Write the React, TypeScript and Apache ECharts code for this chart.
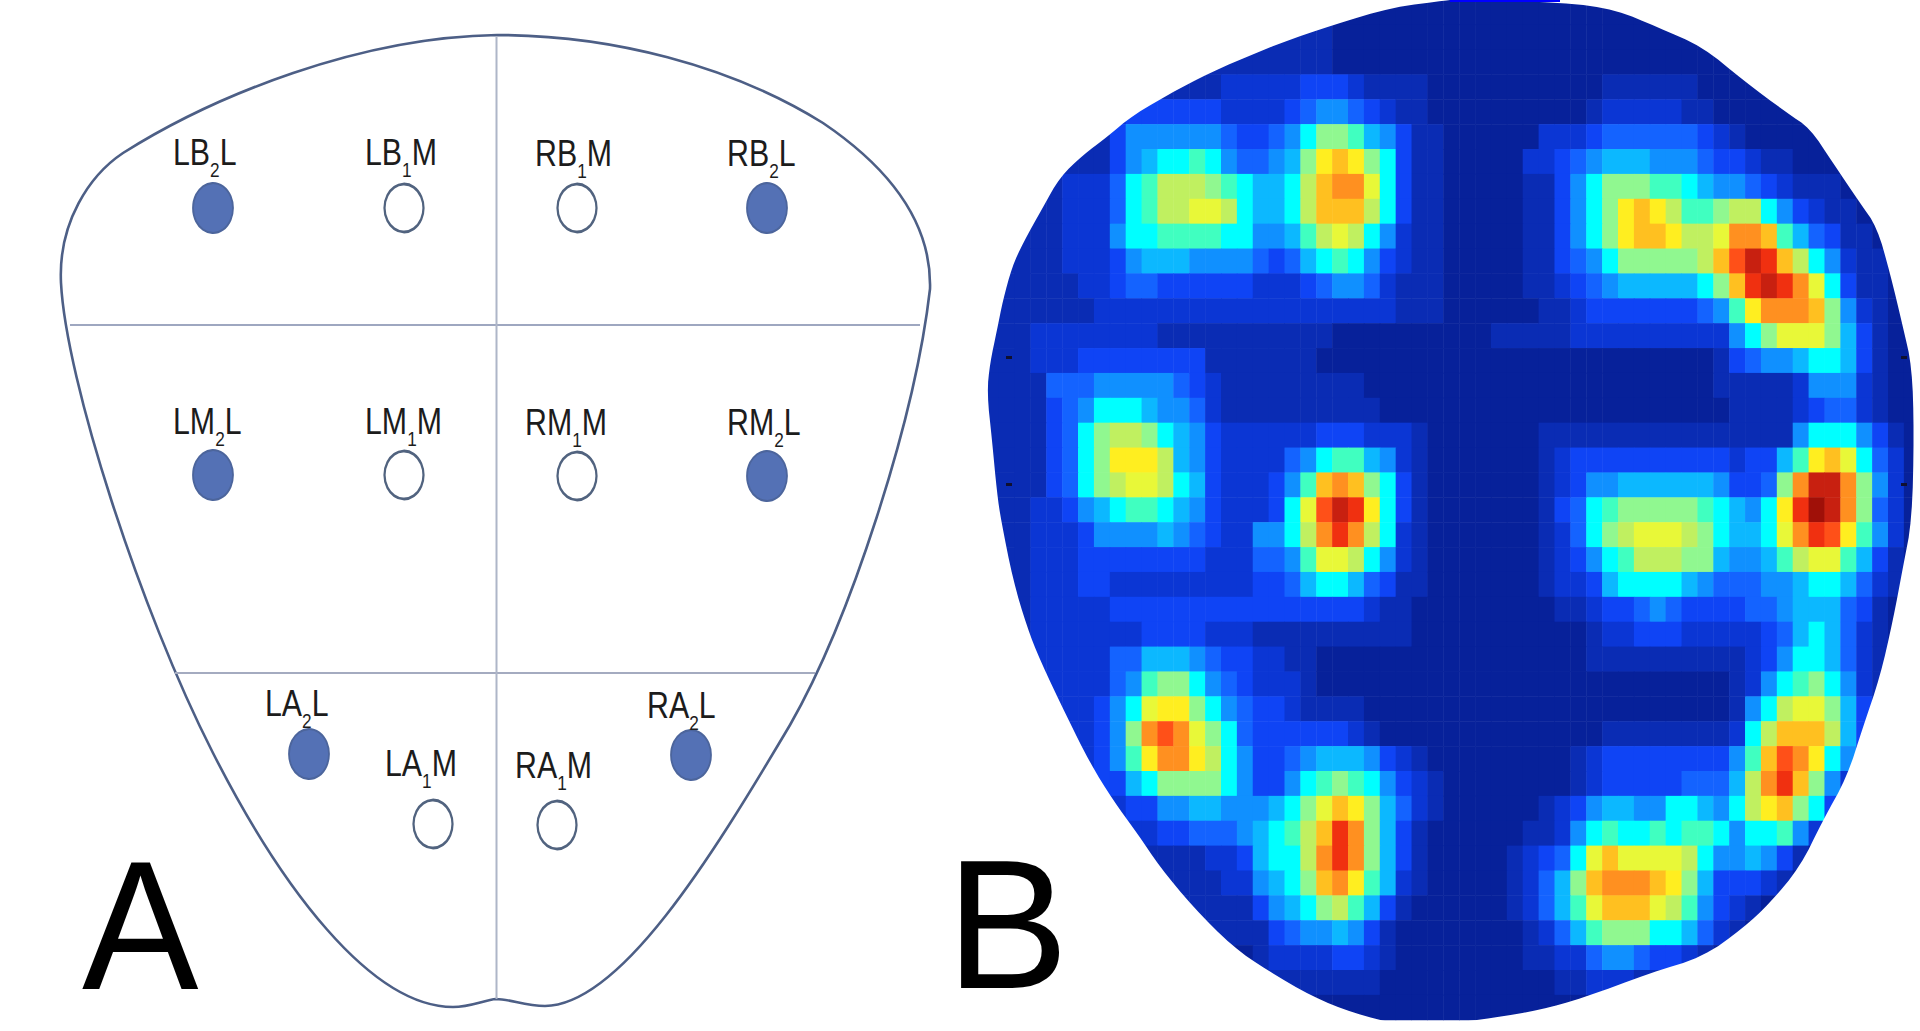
import React, { useEffect, useRef } from "react";
import * as echarts from "echarts";

// Panel B: activity level of each cell, one base-36 digit per cell (0 = lowest, i = 18 = highest)
const heatRows = [
  "0000000000 0000000000 0000000000 0000000000 0000000000 000000000",
  "1111111111 1111111111 1100000000 0000000000 0000000000 000000000",
  "1111111111 1111111111 1100000000 0000000000 0000000000 000000000",
  "1111111111 1111122222 3332111100 0000000001 1111100000 000000000",
  "1111111123 3333322223 4554321100 0000000012 2222110000 000000000",
  "1111111135 5555543345 7998653110 0000022234 4444432100 000000000",
  "1111111135 6778754456 9cdc973110 0000223456 6655543321 100000000",
  "1111122247 8aaa987667 adeeb73110 0000113579 9988765543 211100000",
  "1111122247 8aabba7667 addda73110 0000113579 cdca889aa7 532110000",
  "1111122257 7888877556 8aba752110 0000113579 cddcaabeed 864311000",
  "1111122235 6665555434 6787532110 0000113457 99999adfhg da7521100",
  "1111112234 4333333222 3455421110 0000112345 6666679dgh geb731100",
  "1111111222 2222222222 2222221110 0000011233 33333458ce eed952100",
  "1112222222 2111111111 1100000000 0011111222 2222222579 bbb963100",
  "1112223333 3333111111 1000000000 0000000000 0000001345 567763100",
  "1111444555 5543211111 1111000000 0000000000 0000001111 125552100",
  "1111345777 6554211111 1111100000 0000000000 0000000111 123442100",
  "11113479aa 9765322222 2333222100 0000011111 1111111111 157775310",
  "11113479cc ca65322224 5788652100 0000012333 3333333233 68cdb7420",
  "11113479ab ba76322235 8ded973100 0000012355 6666665334 9ehhe9520",
  "1112235678 8765322237 bfhgc73100 0000013478 9999987657 cgihe9420",
  "1112223555 5654322557 aegea72100 0000012479 abbba97667 begfc8520",
  "1112223333 3333222445 8bba752100 0000012357 8aaa996556 8abb86310",
  "1112223322 2222222334 6776431100 0000012236 7777654445 567764210",
  "1112222233 3333333333 3333211000 0000001123 3454333344 566643100",
  "1112222222 3333222111 1111111000 0000000012 2333222223 467642100",
  "1112222244 6665433221 1000000000 0000000011 1111111123 577642100",
  "1112222245 8997543222 1000000000 0000000000 0000000125 789752100",
  "1112222357 bcc9754332 1111000000 0000000000 0000000157 abb963100",
  "1112222359 efeb974333 3332100000 0000000001 111111127a ddda63100",
  "1111122358 ceeca75334 5666532100 0000000123 333333358d fec752000",
  "1111122336 7999975335 7898753210 0000000123 33334446ae gd9520000",
  "1111112223 3556655567 9bdc964210 0000012356 65577657ac d97310000",
  "1111111122 2334445678 adge963100 0000112578 7787887577 852000000",
  "0000001111 1111223677 aege963100 00012347bd bbbba75565 310000000",
  "0000000111 1111122567 9dec862100 00012469de eedc963332 100000000",
  "0000000001 1111111356 79a8631000 00012468bd ddba853210 000000000",
  "0000000000 0000111134 5565310000 0000124689 9977642100 000000000",
  "0000000000 0000000122 2233210000 0000112245 5433210000 000000000",
  "0000000000 0000000011 1111100000 0000001122 2111000000 000000000",
  "0000000000 0000000000 0000000000 0000000000 0000000000 000000000",
];

const levelColors = [
  "#07219a", "#0a2cb4", "#0b36d4", "#0f44f5", "#1463ff", "#1090ff", "#0cb8ff",
  "#00ffff", "#40ffc0", "#90f890", "#c0f060", "#e8f838", "#ffee20", "#ffc020",
  "#ff9020", "#ff5018", "#f03010", "#c82010", "#a01008",
];

// Panel A: electrodes [x, y] on the page-wide axes
const filledElectrodes = [[213, 208], [767, 208], [213, 475], [767, 476], [309, 754], [691, 755]];
const hollowElectrodes = [[404, 208], [577, 208], [404, 475], [577, 476], [433, 824], [557, 825]];
// label text is [prefix, subscript, suffix]; position is left edge and baseline
const electrodeLabels: [string, string, string, number, number][] = [
  ["LB", "2", "L", 173, 164], ["LB", "1", "M", 365, 164], ["RB", "1", "M", 535, 165], ["RB", "2", "L", 727, 165],
  ["LM", "2", "L", 173, 433], ["LM", "1", "M", 365, 433], ["RM", "1", "M", 525, 434], ["RM", "2", "L", 727, 434],
  ["LA", "2", "L", 265, 715], ["LA", "1", "M", 385, 775], ["RA", "1", "M", 515, 777], ["RA", "2", "L", 647, 717],
];

const footPath =
  "M497 35 C360 37 215 95 123 153 C90 175 58 222 61 283 C66 380 140 610 213 753 C280 885 370 1007 453 1007 " +
  "C470 1007 485 1000 496 999 C510 999 525 1006 545 1006 C620 1005 710 860 790 725 C850 620 915 420 930 289 " +
  "C932 220 885 165 823 123 C730 65 610 35 497 35 Z";

const heatEdge = [
  [1450, 0], [1563, 2], [1617, 10], [1657, 27], [1703, 47], [1743, 80], [1787, 113], [1810, 128], [1833, 163],
  [1860, 203], [1877, 227], [1890, 273], [1903, 327], [1912, 367], [1914, 433], [1912, 520], [1903, 567], [1893, 620],
  [1880, 677], [1863, 727], [1847, 777], [1823, 820], [1800, 867], [1770, 903], [1743, 928], [1703, 957], [1650, 973],
  [1583, 998], [1540, 1010], [1493, 1018], [1450, 1023], [1400, 1025], [1353, 1013], [1313, 997], [1267, 970],
  [1233, 947], [1193, 907], [1160, 867], [1137, 833], [1113, 800], [1090, 763], [1067, 717], [1040, 660], [1027, 627],
  [1013, 580], [1001, 520], [997, 493], [992, 440], [987, 393], [990, 363], [997, 330], [1003, 300], [1012, 267],
  [1023, 243], [1043, 207], [1060, 177], [1083, 155], [1107, 137], [1133, 115], [1180, 88], [1220, 68], [1280, 43],
  [1333, 25], [1393, 7], [1450, 0],
];
const edgeTicks = [[1006, 356], [1006, 483], [1901, 356], [1901, 483]];

echarts.graphic.registerShape("footOutline", echarts.graphic.extendPath(footPath, {}) as any);

function cornerCut(points: number[][]): number[][] {
  const out: number[][] = [points[0]];
  for (let i = 0; i < points.length - 1; i++) {
    const [ax, ay] = points[i];
    const [bx, by] = points[i + 1];
    out.push([0.75 * ax + 0.25 * bx, 0.75 * ay + 0.25 * by]);
    out.push([0.25 * ax + 0.75 * bx, 0.25 * ay + 0.75 * by]);
  }
  out.push(points[points.length - 1]);
  return out;
}

export default function App() {
  const ref = useRef<HTMLDivElement>(null);
  useEffect(() => {
    if (!ref.current) return;
    document.body.style.margin = "0";
    const chart = echarts.init(ref.current, undefined, { renderer: "svg" });
    const rows = heatRows.map((r) => r.replace(/ /g, ""));
    const nCols = rows[0].length;
    const cells: number[][] = [];
    rows.forEach((r, y) => {
      for (let x = 0; x < nCols; x++) cells.push([x, y, parseInt(r[x] ?? "0", 36)]);
    });
    const edge = cornerCut(cornerCut(heatEdge));
    const mask = [...edge, [1450, -12], [975, -12], [975, 1045], [1935, 1045], [1935, -12], [1450, -12]];
    const main = { fill: "#1c1c1c", fontFamily: "Liberation Sans", fontSize: 37, lineHeight: 56 };
    const sub = { fill: "#1c1c1c", fontFamily: "Liberation Sans", fontSize: 21, lineHeight: 56, verticalAlign: "bottom" };
    chart.setOption({
      animation: false,
      backgroundColor: "#ffffff",
      tooltip: { show: false },
      grid: [
        { left: 983, top: -5, width: 944, height: 1025 },
        { left: 0, top: 0, width: 1920, height: 1031 },
      ],
      xAxis: [
        { type: "category", gridIndex: 0, show: false, data: Array.from({ length: nCols }, (_, i) => i) },
        { type: "value", gridIndex: 1, show: false, min: 0, max: 1920 },
      ],
      yAxis: [
        { type: "category", gridIndex: 0, show: false, inverse: true, data: rows.map((_, i) => i) },
        { type: "value", gridIndex: 1, show: false, min: 0, max: 1031, inverse: true },
      ],
      visualMap: {
        show: false, type: "continuous", seriesIndex: 0, dimension: 2, min: 0, max: 18,
        inRange: { color: levelColors },
      },
      series: [
        { type: "heatmap", xAxisIndex: 0, yAxisIndex: 0, data: cells, itemStyle: { borderWidth: 0 }, progressive: 0, silent: true },
        {
          type: "scatter", xAxisIndex: 1, yAxisIndex: 1, symbol: "circle", symbolSize: [40, 50], data: filledElectrodes,
          itemStyle: { color: "#5471b5", borderColor: "#4c659c", borderWidth: 2, opacity: 1 }, silent: true,
        },
        {
          type: "scatter", xAxisIndex: 1, yAxisIndex: 1, symbol: "circle", symbolSize: [39, 48], data: hollowElectrodes,
          itemStyle: { color: "#ffffff", borderColor: "#51637f", borderWidth: 2.5, opacity: 1 }, silent: true,
        },
      ],
      graphic: [
        { type: "footOutline", x: 0, y: 0, style: { fill: "none", stroke: "#4d5f86", lineWidth: 2.6 }, z: 1 },
        { type: "line", shape: { x1: 70, y1: 325, x2: 920, y2: 325 }, style: { stroke: "#9ea7c0", lineWidth: 2 }, z: 1 },
        { type: "line", shape: { x1: 175, y1: 673, x2: 815, y2: 673 }, style: { stroke: "#a4abc0", lineWidth: 2 }, z: 1 },
        { type: "line", shape: { x1: 496.5, y1: 36, x2: 496.5, y2: 999 }, style: { stroke: "#aeb6c8", lineWidth: 2 }, z: 1 },
        { type: "polygon", shape: { points: mask }, style: { fill: "#ffffff", stroke: "none" }, z: 100 },
        { type: "rect", shape: { x: 1450, y: 0, width: 110, height: 2 }, style: { fill: "#0000ff" }, z: 101 },
        ...edgeTicks.map((t) => ({ type: "rect", shape: { x: t[0], y: t[1], width: 6, height: 3 }, style: { fill: "#101030" }, z: 101 })),
        ...electrodeLabels.map((l) => ({
          type: "text", x: l[3], y: l[4] - 12, scaleX: 0.82, z: 20,
          style: { text: `{m|${l[0]}}{s|${l[1]}}{m|${l[2]}}`, rich: { m: main, s: sub }, textAlign: "left", textVerticalAlign: "middle" },
        })),
        {
          type: "text", x: 82, y: 925, scaleX: 0.95, z: 102,
          style: { text: "A", fontFamily: "Liberation Sans", fontSize: 184, lineHeight: 180, fill: "#000000", textAlign: "left", textVerticalAlign: "middle" },
        },
        {
          type: "text", x: 946, y: 924, z: 102,
          style: { text: "B", fontFamily: "Liberation Sans", fontSize: 184, lineHeight: 180, fill: "#000000", textAlign: "left", textVerticalAlign: "middle" },
        },
      ],
    });
    return () => chart.dispose();
  }, []);
  return <div ref={ref} style={{ position: "absolute", left: 0, top: 0, width: 1920, height: 1031, background: "#fff" }} />;
}
